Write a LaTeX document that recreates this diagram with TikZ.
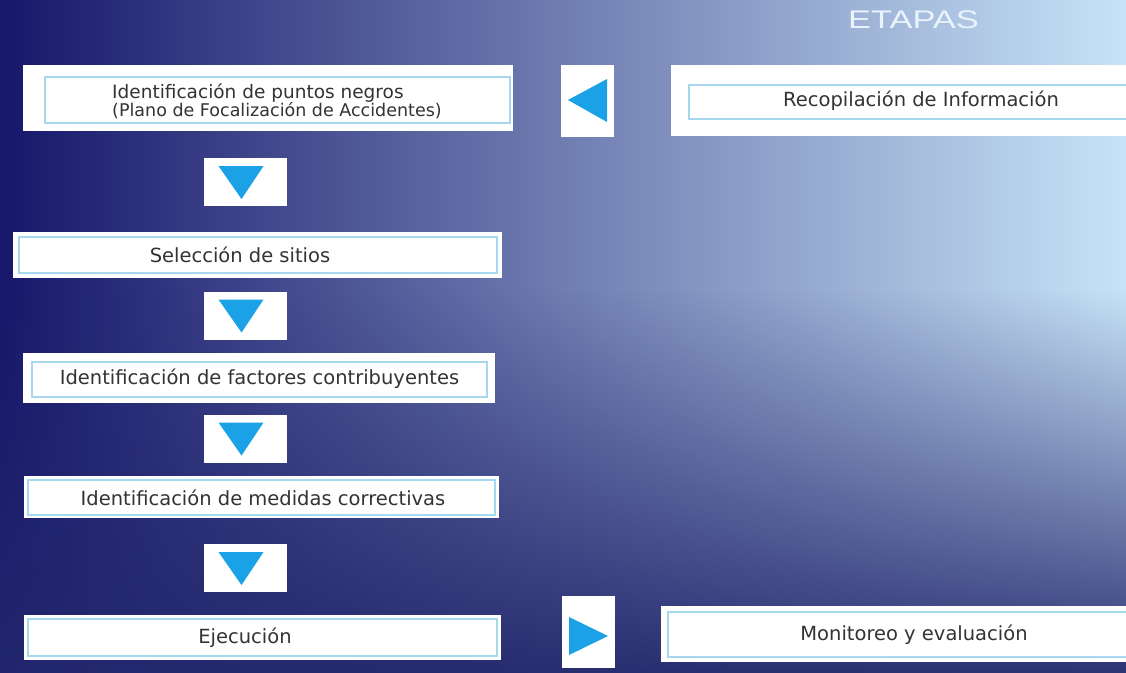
\documentclass[tikz,border=0pt]{standalone}
\usepackage{fontspec}
\setmainfont{DejaVu Sans}
\newfontfamily\titlefont{Liberation Sans}
\usetikzlibrary{fadings,calc}
\definecolor{bgdark}{HTML}{16166A}
\definecolor{bgmid}{HTML}{8597B7}
\definecolor{bglight}{HTML}{C8E4F8}
\definecolor{bgbottom}{HTML}{23276C}
\definecolor{arrowblue}{HTML}{1BA1E6}
\definecolor{innerline}{HTML}{A6D8EE}
\definecolor{txt}{HTML}{333333}
\definecolor{titlecol}{HTML}{EAF3FB}
\tikzset{
  outerbox/.style={fill=white, draw=none, inner sep=0pt, outer sep=0pt},
  innerbox/.style={draw=innerline, line width=1.4pt},
  lbl/.style={text=txt, font=\fontsize{19.5}{22}\selectfont, inner sep=0pt},
  arrowsq/.style={fill=white, draw=none, inner sep=0pt, outer sep=0pt},
  downsq/.style={arrowsq, minimum width=83pt, minimum height=48pt},
  sidesq/.style={arrowsq, minimum width=53pt, minimum height=72pt},
  tri/.style={fill=arrowblue, draw=none},
}
\begin{document}
\begin{tikzpicture}[x=1pt,y=-1pt]
\clip (0,0) rectangle (1126,672);
% background
\shade[left color=bgdark, middle color=bgmid, right color=bglight] (-5,-5) rectangle (1131,677);
\fill[bgbottom, path fading=north] (-20,290) rectangle (1146,700);

% title
\node[anchor=base, text=titlecol, inner sep=0pt] (title) at (913.5,28)
  {\scalebox{1.35}[1]{\titlefont\fontsize{25.5}{25}\selectfont ETAPAS}};

% box 1
\node[outerbox, minimum width=490pt, minimum height=66pt] (b1) at (268,98) {};
\draw[innerbox] (45,77) rectangle (510,123);
\node[lbl, anchor=west, align=left, font=\fontsize{18.5}{18}\selectfont] (t1) at (112,101)
  {Identificación de puntos negros\\{\fontsize{17.5}{18}\selectfont(Plano de Focalización de Accidentes)}};

% box 2
\node[outerbox, minimum width=489pt, minimum height=46pt] (b2) at (257.5,255) {};
\draw[innerbox] (19,237) rectangle (497,273);
\node[lbl] (t2) at (240,255) {Selección de sitios};

% box 3
\node[outerbox, minimum width=472pt, minimum height=50pt] (b3) at (259,378) {};
\draw[innerbox] (32,362) rectangle (487,397);
\node[lbl] (t3) at (259.5,379) {Identificación de factores contribuyentes};

% box 4
\node[outerbox, minimum width=475pt, minimum height=42pt] (b4) at (261.5,497) {};
\draw[innerbox] (28,480) rectangle (495,515);
\node[lbl] (t4) at (263,498) {Identificación de medidas correctivas};

% box 5
\node[outerbox, minimum width=477pt, minimum height=45pt] (b5) at (262.5,637.5) {};
\draw[innerbox] (28,619) rectangle (497,656);
\node[lbl] (t5) at (245,638) {Ejecución};

% right boxes
\node[outerbox, minimum width=459pt, minimum height=71pt] (r1) at (900.5,100.5) {};
\draw[innerbox] (1130,85) -- (689,85) -- (689,119) -- (1130,119);
\node[lbl] (tr1) at (921,101) {Recopilación de Información};

\node[outerbox, minimum width=469pt, minimum height=56pt] (r2) at (895.5,634) {};
\draw[innerbox] (1130,612) -- (668,612) -- (668,657) -- (1130,657);
\node[lbl] (tr2) at (914,635) {Monitoreo y evaluación};

% down arrows
\node[downsq] (a1) at (245.5,182) {};
\node[downsq] (a2) at (245.5,315.5) {};
\node[downsq] (a3) at (245.5,438.5) {};
\node[downsq] (a4) at (245.5,568) {};
\foreach \a in {a1,a2,a3,a4}{
  \fill[tri] ($(\a)+(-27,-16)$) -- ($(\a)+(18,-16)$) -- ($(\a)+(-4,17)$) -- cycle;
}

% side arrows
\node[sidesq] (al) at (587.5,101) {};
\fill[tri] ($(al)+(-19.5,-1)$) -- ($(al)+(19.5,-22)$) -- ($(al)+(19.5,21)$) -- cycle;
\node[sidesq] (ar) at (588,632) {};
\fill[tri] ($(ar)+(-19,-15)$) -- ($(ar)+(20,4)$) -- ($(ar)+(-19,23)$) -- cycle;
\end{tikzpicture}
\end{document}
